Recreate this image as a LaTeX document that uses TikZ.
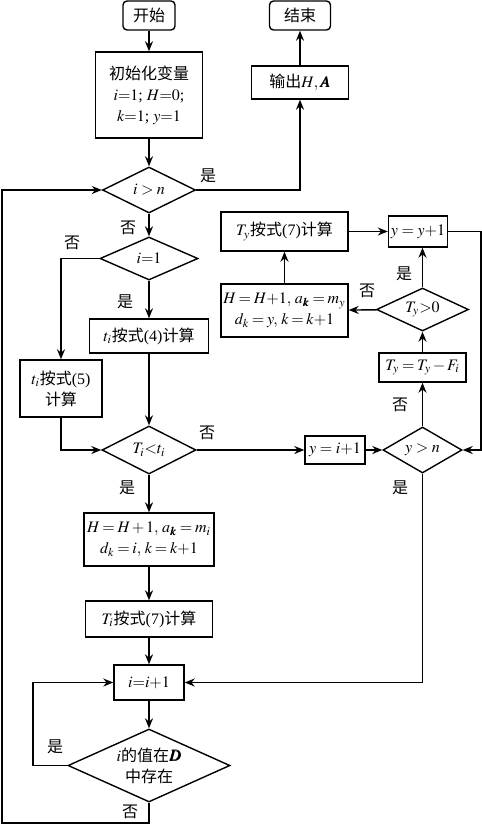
\documentclass[tikz,border=0pt]{standalone}
\usepackage{mathptmx}
\usepackage{bm}
\usepackage{fontspec}
\setmainfont{Liberation Serif}
\newfontfamily\cjk{Noto Sans CJK SC}
\newcommand{\zh}[1]{{\cjk #1}}
\newcommand{\tightmath}{\medmuskip=2mu\relax\thickmuskip=3mu\relax}
\usetikzlibrary{arrows.meta, shapes.geometric}

\begin{document}
\begin{tikzpicture}[x=0.5pt, y=-0.5pt, line width=0.7pt, >={Stealth[length=5pt, width=4pt]},
    every node/.style={font=\fontsize{8}{10.5}\selectfont},
    wh/.style 2 args={minimum width=#1*0.5pt, minimum height=#2*0.5pt},
    box/.style={draw, rectangle, align=center, inner sep=0pt},
    term/.style={box, rounded corners=2pt},
    dia/.style={draw, diamond, align=center, inner sep=0pt, aspect=#1},
    tight/.style={font=\fontsize{8}{10.5}\selectfont\tightmath},
    lab/.style={inner sep=0pt}]
  \useasboundingbox (0,0) rectangle (482,825);

  % Colonne principale
  \node[term, wh={52}{29}] (start) at (149,15.5) {\zh{开始}};
  \node[box, wh={107}{86}] (init) at (149,95)
      {\zh{初始化变量}\\$i{=}1$; $H{=}0$;\\$k{=}1$; $y{=}1$};
  \node[dia=2.0, wh={93}{46}] (gt) at (149,190) {$i>n$};
  \node[dia=2.3, wh={98}{43}] (eq) at (149,258.5) {$i{=}1$};
  \node[box, wh={119}{34}] (t4) at (149,336) {$t_i$\zh{按式}(4)\zh{计算}};
  \node[box, wh={82}{57}] (t5) at (61,388.5) {$t_i$\zh{按式}(5)\\\zh{计算}};
  \node[dia=1.95, wh={94}{48}] (lt) at (149,450) {$T_i{<}t_i$};
  \node[box, tight, wh={130}{53}] (hi) at (149,539.5)
      {$H=H+1,\, a_{\bm{k}}=m_i$\\$d_k=i,\, k=k{+}1$};
  \node[box, wh={127}{36}] (ti) at (149,619) {$T_i$\zh{按式}(7)\zh{计算}};
  \node[box, wh={70}{35}] (inc) at (149,682.5) {$i{=}i{+}1$};
  \node[dia=2.2, wh={162}{73}] (dd) at (149,765.5) {$i$\zh{的值在}$\bm{D}$\\\zh{中存在}};

  % Sortie
  \node[term, wh={61}{29}] (stop) at (300,15.5) {\zh{结束}};
  \node[box, wh={97}{33}] (out) at (300,82.5) {\zh{输出}$H,\bm{A}$};

  % Boucle sur y
  \node[box, wh={60}{28}] (yi) at (335,450) {$y=i{+}1$};
  \node[dia=1.7, wh={79}{46}] (yn) at (422.5,450) {$y>n$};
  \node[box, tight, wh={87}{29}] (tf) at (422.5,367.5) {$T_y=T_y-F_i$};
  \node[dia=2.15, wh={92}{43}] (tp) at (422.5,309.5) {$T_y{>}0$};
  \node[box, tight, wh={127}{53}] (hy) at (284.5,310.5)
      {$H=H{+}1,\, a_{\bm{k}}=m_y$\\$d_k=y,\, k=k{+}1$};
  \node[box, wh={127}{39}] (ty) at (284.5,231.5) {$T_y$\zh{按式}(7)\zh{计算}};
  \node[box, wh={59}{31}] (yy) at (418,231.5) {$y=y{+}1$};

  \coordinate (rr) at (481,231.5);
  \coordinate (ll) at (33,765.5);
  \coordinate (bl) at (2,823);
  \coordinate (tl) at (2,190);

  % Connexions
  \draw[->] (start) -- (init);
  \draw[->] (init) -- (gt);
  \draw[->] (gt.east) -| (out.south);
  \draw[->] (out) -- (stop);
  \draw[->] (gt) -- (eq);
  \draw[->] (eq.west) -| (t5.north);
  \draw[->] (eq) -- (t4);
  \draw[->] (t4) -- (lt);
  \draw[->] (t5.south) |- (lt.west);
  \draw[->] (lt) -- (yi);
  \draw[->] (yi) -- (yn);
  \draw[->] (yn) -- (tf);
  \draw[->] (tf) -- (tp);
  \draw[->] (tp.north) -- (tp.north |- yy.south);
  \draw[->] (tp) -- (hy);
  \draw[->] (hy) -- (ty);
  \draw[->] (ty) -- (yy);
  \draw[->] (yy.east) -- (rr) |- (yn.east);
  \draw[->] (lt) -- (hi);
  \draw[->] (hi) -- (ti);
  \draw[->] (ti) -- (inc);
  \draw[->] (yn.south) |- (inc.east);
  \draw[->] (inc) -- (dd);
  \draw[->] (dd.west) -- (ll) |- (inc.west);
  \draw[->] (dd.south) |- (bl) -- (tl) -- (gt.west);

  % Étiquettes
  \node[lab] (y1) at (208,176) {\zh{是}};
  \node[lab] (n1) at (128,228) {\zh{否}};
  \node[lab] (n2) at (72,243) {\zh{否}};
  \node[lab] (y2) at (125,302) {\zh{是}};
  \node[lab] (n3) at (207,433) {\zh{否}};
  \node[lab] (y3) at (127,488) {\zh{是}};
  \node[lab] (n4) at (400,405) {\zh{否}};
  \node[lab] (y4) at (400,488) {\zh{是}};
  \node[lab] (y5) at (404,274) {\zh{是}};
  \node[lab] (n5) at (367,291) {\zh{否}};
  \node[lab] (y6) at (55,747) {\zh{是}};
  \node[lab] (n6) at (130,812) {\zh{否}};
\end{tikzpicture}
\end{document}
